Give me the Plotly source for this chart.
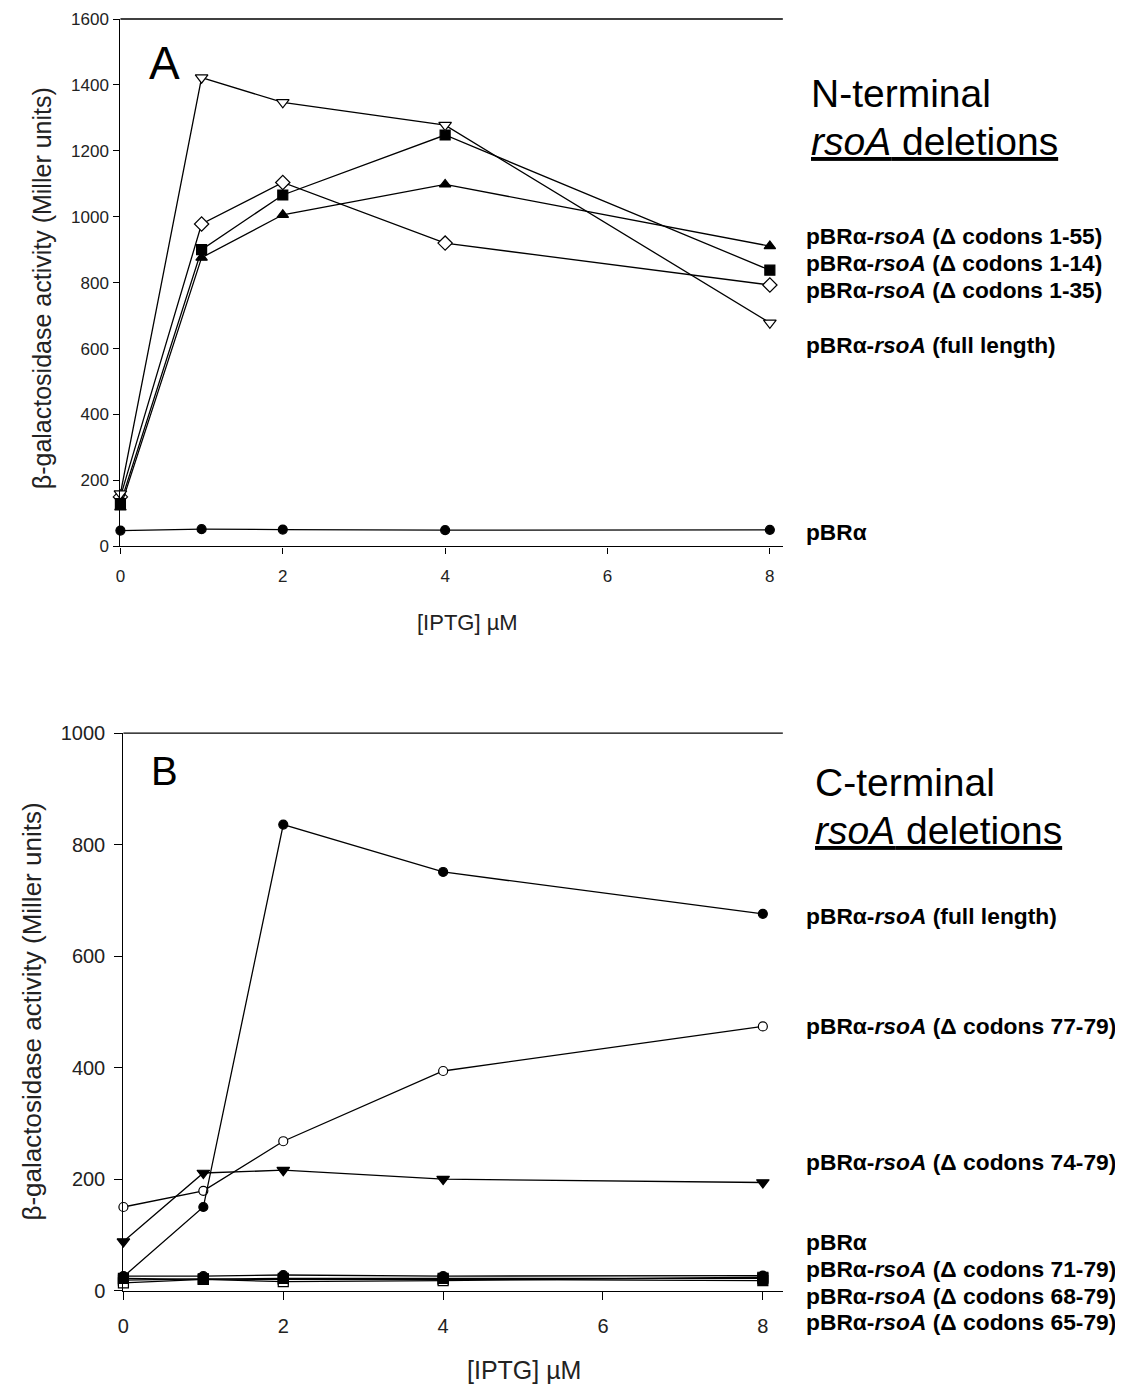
import plotly.graph_objects as go

W, H = 1123, 1386
OFF = 8            # default page body margin
FW, FH = W - OFF, H - OFF

# ---------------- Data ----------------
iptg = [0, 1, 2, 4, 8]

# Panel A: N-terminal deletions
a_full = [160, 1422, 1347, 1278, 678]
a_d1_55 = [118, 876, 1006, 1098, 911]
a_d1_14 = [130, 900, 1066, 1248, 838]
a_d1_35 = [150, 978, 1104, 920, 793]
a_pbr = [48, 52, 51, 49, 50]

# Panel B: C-terminal deletions
b_full = [25, 150, 836, 751, 676]
b_d77_79 = [150, 179, 268, 394, 474]
b_d74_79 = [88, 211, 216, 200, 194]
b_pbr = [26, 26, 28, 26, 27]
b_d71_79 = [22, 20, 22, 22, 22]
b_d68_79 = [14, 20, 16, 18, 24]
b_d65_79 = [19, 21, 20, 20, 18]

a_ticks = [0, 200, 400, 600, 800, 1000, 1200, 1400, 1600]
b_ticks = [0, 200, 400, 600, 800, 1000]
x_ticks = [0, 2, 4, 6, 8]

FONT = "Liberation Sans, Arial, sans-serif"

def clamp(v):
    return max(0.0, min(1.0, v))

def px(x):
    x = (x - 4.35) / 0.997
    return clamp((x - OFF) / FW)

def py(y):
    y = (y - 10.25) / 0.985
    return clamp(1 - (y - OFF) / FH)

fig = go.Figure()

def add_series(y, symbol, filled, xa, ya, size=10):
    fig.add_trace(go.Scatter(
        x=iptg, y=y, mode="lines+markers",
        line=dict(color="black", width=1.3),
        marker=dict(symbol=symbol, size=size,
                    color="black" if filled else "white",
                    line=dict(color="black", width=1.2)),
        xaxis=xa, yaxis=ya, showlegend=False, hoverinfo="x+y",
        cliponaxis=False))

# Panel A
add_series(a_pbr, "circle", True, "x", "y", 9)
add_series(a_d1_35, "diamond", False, "x", "y", 11)
add_series(a_d1_14, "square", True, "x", "y", 10)
add_series(a_d1_55, "triangle-up", True, "x", "y", 10)
add_series(a_full, "triangle-down", False, "x", "y", 11)

# Panel B
add_series(b_d65_79, "square", True, "x2", "y2", 10)
add_series(b_d68_79, "square", False, "x2", "y2", 10)
add_series(b_d71_79, "square", True, "x2", "y2", 10)
add_series(b_pbr, "circle", True, "x2", "y2", 9)
add_series(b_d74_79, "triangle-down", True, "x2", "y2", 11)
add_series(b_d77_79, "circle", False, "x2", "y2", 9)
add_series(b_full, "circle", True, "x2", "y2", 9)

axis_common = dict(showgrid=False, zeroline=False, showline=True,
                   linecolor="black", linewidth=1.3, ticks="outside",
                   tickwidth=1.2, tickcolor="black")

fig.update_layout(
    width=FW, height=FH, margin=dict(l=0, r=0, t=0, b=0),
    paper_bgcolor="white", plot_bgcolor="white",
    font=dict(family=FONT, color="black"),
    xaxis=dict(domain=[px(119), px(783)], range=[0, 8.16],
               tickvals=x_ticks, anchor="y", ticklen=6, ticklabelstandoff=8,
               tickfont=dict(size=17, color="#222"), **axis_common),
    yaxis=dict(domain=[py(546), py(17)], range=[0, 1600],
               tickvals=a_ticks, anchor="x", ticklen=6, ticklabelstandoff=1,
               tickfont=dict(size=17, color="#222"), **axis_common),
    xaxis2=dict(domain=[px(122), px(783)], range=[0, 8.25],
                tickvals=x_ticks, anchor="y2", ticklen=8, ticklabelstandoff=9,
                tickfont=dict(size=20, color="#222"), **axis_common),
    yaxis2=dict(domain=[py(1291), py(733)], range=[0, 1000],
                tickvals=b_ticks, anchor="x2", ticklen=8, ticklabelstandoff=5,
                tickfont=dict(size=20, color="#222"), **axis_common),
)

# top frame lines
fig.add_shape(type="line", xref="paper", yref="paper",
              x0=px(119), x1=px(783), y0=py(17), y1=py(17),
              line=dict(color="black", width=1.3))
fig.add_shape(type="line", xref="paper", yref="paper",
              x0=px(122), x1=px(783), y0=py(733), y1=py(733),
              line=dict(color="black", width=1.3))

def ann(text, x, y, size, xanchor="left", angle=0, color="black"):
    fig.add_annotation(text=text, x=px(x), y=py(y), xref="paper", yref="paper",
                       xanchor=xanchor, yanchor="middle", showarrow=False,
                       textangle=angle,
                       font=dict(size=size, family=FONT, color=color))

# Axis titles
ytitle = "β-galactosidase activity (Miller units)"
ann(ytitle, 40, 288, 25, xanchor="center", angle=-90, color="#222")
ann(ytitle, 30, 1012, 26, xanchor="center", angle=-90, color="#222")
ann("[IPTG] µM", 467, 622, 22, xanchor="center", color="#222")
ann("[IPTG] µM", 524, 1370, 25, xanchor="center", color="#222")

# Panel letters
ann("A", 146, 62, 46)
ann("B", 148, 771, 40)

# Panel headings
ann("N-terminal", 809, 93, 39)
ann("<u><i>rsoA</i> deletions</u>", 809, 141, 39)
ann("C-terminal", 813, 782, 39)
ann("<u><i>rsoA</i> deletions</u>", 813, 830, 39)

def lab(name, y, size):
    ann("<b>" + name + "</b>", 804, y, size)

lab("pBRα-<i>rsoA</i> (Δ codons 1-55)", 235, 22.7)
lab("pBRα-<i>rsoA</i> (Δ codons 1-14)", 262, 22.7)
lab("pBRα-<i>rsoA</i> (Δ codons 1-35)", 289, 22.7)
lab("pBRα-<i>rsoA</i> (full length)", 344, 22.7)
lab("pBRα", 532, 22.7)

lab("pBRα-<i>rsoA</i> (full length)", 916, 22.8)
lab("pBRα-<i>rsoA</i> (Δ codons 77-79)", 1026, 22.8)
lab("pBRα-<i>rsoA</i> (Δ codons 74-79)", 1162, 22.8)
lab("pBRα", 1242, 22.8)
lab("pBRα-<i>rsoA</i> (Δ codons 71-79)", 1269, 22.8)
lab("pBRα-<i>rsoA</i> (Δ codons 68-79)", 1296, 22.8)
lab("pBRα-<i>rsoA</i> (Δ codons 65-79)", 1322, 22.8)

fig.write_html("out.html")
